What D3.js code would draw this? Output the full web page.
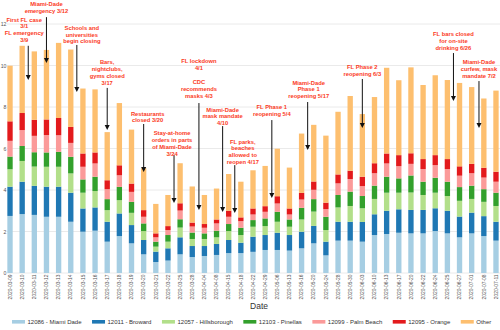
<!DOCTYPE html>
<html lang="en">
<head>
  <meta charset="UTF-8" />
  <title>Florida counties stacked by date</title>
  <style>
    html, body { margin: 0; padding: 0; background: #fff; }
    svg { display: block; font-family: "Liberation Sans", Arial, sans-serif; }
  </style>
</head>
<body>
  <div id="chart"></div>

  <script src="https://d3js.org/d3.v7.min.js"></script>
  <script>
    // Dates on the x axis
    const dates = [
      "2020-03-09", "2020-03-10", "2020-03-11", "2020-03-12", "2020-03-13", "2020-03-14",
      "2020-03-15", "2020-03-16", "2020-03-17", "2020-03-18", "2020-03-19", "2020-03-20",
      "2020-03-21", "2020-03-22", "2020-03-25", "2020-03-28", "2020-04-04", "2020-04-08",
      "2020-04-15", "2020-04-18", "2020-04-22", "2020-04-29", "2020-05-06", "2020-05-13",
      "2020-05-16", "2020-05-20", "2020-05-24", "2020-05-28", "2020-05-30", "2020-06-03",
      "2020-06-10", "2020-06-13", "2020-06-17", "2020-06-20", "2020-06-22", "2020-06-24",
      "2020-06-25", "2020-06-27", "2020-07-01", "2020-07-08", "2020-07-11"
    ];

    // One array per county (stack order, bottom to top)
    const miamiDade = [2.75, 2.84, 2.80, 2.71, 2.71, 2.47, 1.99, 2.04, 1.51, 1.78, 1.43, 0.90, 0.53, 0.60,
      0.90, 0.77, 0.82, 0.87, 0.96, 0.96, 1.02, 1.11, 1.11, 1.08, 1.19, 1.43, 0.85, 1.56, 1.56, 1.51,
      1.83, 1.88, 1.94, 1.91, 1.91, 2.02, 1.91, 1.72, 1.91, 1.78, 1.56];
    const broward = [1.41, 1.56, 1.40, 1.45, 1.45, 1.40, 1.12, 1.12, 0.96, 1.09, 0.88, 0.69, 0.50, 0.59,
      0.82, 0.53, 0.48, 0.53, 0.63, 0.50, 0.73, 0.72, 0.83, 0.75, 0.80, 0.84, 0.66, 0.91, 0.91, 0.95,
      1.00, 1.12, 1.13, 1.13, 1.13, 1.10, 1.09, 1.00, 1.00, 0.96, 0.91];
    const hillsborough = [0.84, 1.00, 0.93, 0.96, 0.96, 0.93, 0.76, 0.79, 0.56, 0.64, 0.59, 0.43, 0.24, 0.32,
      0.47, 0.34, 0.34, 0.32, 0.43, 0.37, 0.48, 0.43, 0.53, 0.40, 0.59, 0.69, 0.56, 0.69, 0.76, 0.66,
      0.74, 0.87, 0.80, 0.84, 0.72, 0.75, 0.71, 0.76, 0.66, 0.69, 0.76];
    const pinellas = [0.61, 0.72, 0.69, 0.69, 0.72, 0.80, 0.64, 0.69, 0.53, 0.64, 0.53, 0.37, 0.24, 0.32,
      0.40, 0.31, 0.27, 0.32, 0.34, 0.35, 0.32, 0.37, 0.48, 0.35, 0.56, 0.60, 0.64, 0.60, 0.69, 0.59,
      0.64, 0.77, 0.69, 0.82, 0.64, 0.72, 0.69, 0.66, 0.64, 0.61, 0.64];
    const palmBeach = [0.76, 0.77, 0.79, 0.84, 0.80, 0.67, 0.61, 0.64, 0.48, 0.56, 0.48, 0.32, 0.21, 0.24,
      0.42, 0.29, 0.27, 0.35, 0.35, 0.32, 0.27, 0.32, 0.40, 0.24, 0.40, 0.45, 0.37, 0.56, 0.61, 0.48,
      0.60, 0.64, 0.59, 0.56, 0.61, 0.61, 0.61, 0.55, 0.60, 0.56, 0.53];
    const orangeCo = [0.94, 0.82, 0.77, 0.75, 0.83, 0.77, 0.64, 0.53, 0.43, 0.48, 0.40, 0.32, 0.19, 0.19,
      0.35, 0.19, 0.18, 0.19, 0.29, 0.18, 0.29, 0.27, 0.35, 0.29, 0.32, 0.40, 0.31, 0.43, 0.40, 0.45,
      0.48, 0.48, 0.53, 0.51, 0.48, 0.48, 0.48, 0.45, 0.45, 0.47, 0.48];
    const other = [2.68, 3.24, 3.30, 3.35, 3.62, 3.73, 3.13, 3.04, 2.32, 3.00, 2.60, 2.02, 1.42, 1.50,
      1.93, 1.74, 1.40, 1.49, 1.77, 1.72, 1.84, 1.94, 2.29, 1.97, 2.86, 2.73, 3.23, 3.02, 3.60, 3.02,
      3.19, 4.13, 3.61, 4.14, 3.57, 3.85, 3.81, 4.02, 3.70, 3.34, 3.91];

    const seriesNames = ["12086 - Miami Dade", "12011 - Broward", "12057 - Hillsborough",
      "12103 - Pinellas", "12099 - Palm Beach", "12095 - Orange", "Other"];
    const seriesValues = [miamiDade, broward, hillsborough, pinellas, palmBeach, orangeCo, other];
    const seriesColors = ["#a6cee3", "#1f78b4", "#b2df8a", "#33a02c", "#fb9a99", "#e31a1c", "#fdbf6f"];

    const yTicks = [0, 2, 4, 6, 8, 10, 12];

    // Event notes: anchored at a date (shift = fraction of a bar step), heights in data units
    const events = [
      { lines: ["First FL case", "3/1", "FL emergency", "3/9"], at: "2020-03-10", shift: 0.5, dx: -4, text: 12.12, from: 10.95, to: 9.30 },
      { lines: ["Miami-Dade", "emergency 3/12"], at: "2020-03-12", shift: 0, dx: 0, text: 12.85, from: 12.33, to: 10.12 },
      { lines: ["Schools and", "universities", "begin closing"], at: "2020-03-14", shift: 0.5, dx: 5, text: 11.73, from: 10.99, to: 8.72 },
      { lines: ["Bars,", "nightclubs,", "gyms closed", "3/17"], at: "2020-03-17", shift: 0, dx: 0, text: 10.05, from: 8.92, to: 6.89 },
      { lines: ["Restaurants", "closed 3/20"], at: "2020-03-20", shift: 0, dx: 4, text: 7.59, from: 7.18, to: 4.87 },
      { lines: ["Stay-at-home", "orders in parts", "of Miami-Dade", "3/24"], at: "2020-03-22", shift: 0.5, dx: -2, text: 6.65, from: 5.69, to: 3.37 },
      { lines: ["FL lockdown", "4/1", "", "CDC", "recommends", "masks 4/3"], at: "2020-03-28", shift: 0.55, dx: 0, text: 10.10, from: 8.19, to: 3.04 },
      { lines: ["Miami-Dade", "mask mandate", "4/10"], at: "2020-04-08", shift: 0.5, dx: 0, text: 7.78, from: 7.08, to: 2.94 },
      { lines: ["FL parks,", "beaches", "allowed to", "reopen 4/17"], at: "2020-04-15", shift: 0.5, dx: 8, text: 6.24, from: 5.20, to: 2.89 },
      { lines: ["FL Phase 1", "reopening 5/4"], at: "2020-04-29", shift: 0.55, dx: 0, text: 7.88, from: 7.37, to: 3.61 },
      { lines: ["Miami-Dade", "Phase 1", "reopening 5/17"], at: "2020-05-16", shift: 0.5, dx: 1, text: 9.08, from: 8.24, to: 5.93 },
      { lines: ["FL Phase 2", "reopening 6/3"], at: "2020-06-03", shift: 0, dx: 0, text: 9.81, from: 9.35, to: 6.99 },
      { lines: ["FL bars closed", "for on-site", "drinking 6/26"], at: "2020-06-25", shift: 0.5, dx: 0, text: 11.40, from: 10.60, to: 8.29 },
      { lines: ["Miami-Dade", "curfew, mask", "mandate 7/2"], at: "2020-07-01", shift: 0.6, dx: 0, text: 10.05, from: 9.25, to: 6.99 }
    ];

    const width = 500, height = 330;

    // Table for d3.stack
    const rows = dates.map((d, i) => {
      const row = { date: d };
      seriesNames.forEach((name, k) => { row[name] = seriesValues[k][i]; });
      return row;
    });

    const svg = d3.select("#chart").append("svg")
      .attr("width", width)
      .attr("height", height);

    const x = d3.scaleBand()
      .domain(dates)
      .range([3.7, 502.3])
      .paddingInner(0.56)
      .paddingOuter(0.3);

    const y = d3.scaleLinear()
      .domain([0, 12])
      .range([273, 24]);

    // Horizontal grid
    svg.append("g")
      .selectAll("line")
      .data(yTicks)
      .join("line")
      .attr("x1", 7)
      .attr("x2", width)
      .attr("y1", d => y(d))
      .attr("y2", d => y(d))
      .attr("stroke", "#e5e5e5")
      .attr("stroke-width", 0.8);

    // Y axis labels
    const yAxis = svg.append("g")
      .attr("transform", "translate(6.8,0)")
      .call(d3.axisLeft(y).tickValues(yTicks).tickSize(0).tickPadding(0.4));
    yAxis.select(".domain").remove();
    yAxis.selectAll("text")
      .attr("font-size", 5.2)
      .attr("font-family", "Liberation Sans, Arial, sans-serif")
      .attr("fill", "#555");

    // Stacked bars
    const stack = d3.stack().keys(seriesNames);
    const layers = stack(rows);

    svg.append("g")
      .selectAll("g")
      .data(layers)
      .join("g")
      .attr("fill", (d, i) => seriesColors[i])
      .selectAll("rect")
      .data(d => d)
      .join("rect")
      .attr("x", d => x(d.data.date))
      .attr("width", x.bandwidth())
      .attr("y", d => y(d[1]))
      .attr("height", d => y(d[0]) - y(d[1]));

    // X axis labels, rotated
    const xAxis = svg.append("g")
      .attr("transform", `translate(0,${y(0)})`)
      .call(d3.axisBottom(x).tickSize(0).tickPadding(0));
    xAxis.select(".domain").remove();
    xAxis.selectAll("text")
      .attr("font-size", 4.9)
      .attr("font-family", "Liberation Sans, Arial, sans-serif")
      .attr("fill", "#555")
      .attr("text-anchor", "end")
      .attr("transform", "rotate(-90)")
      .attr("x", -1.5)
      .attr("y", 0)
      .attr("dy", "0.35em");

    svg.append("text")
      .attr("x", 259)
      .attr("y", 309)
      .attr("text-anchor", "middle")
      .attr("font-size", 8.5)
      .attr("fill", "#333")
      .text("Date");

    // Event annotations
    const step = x.step();
    const arrowX = e => x(e.at) + x.bandwidth() / 2 + e.shift * step;
    const noteGroup = svg.append("g");

    events.forEach(e => {
      const ax = arrowX(e);
      const yFrom = y(e.from), yTo = y(e.to);
      noteGroup.append("line")
        .attr("x1", ax).attr("x2", ax)
        .attr("y1", yFrom).attr("y2", yTo - 4)
        .attr("stroke", "#111")
        .attr("stroke-width", 1);
      noteGroup.append("path")
        .attr("d", `M${ax - 2.5},${yTo - 5} L${ax + 2.5},${yTo - 5} L${ax},${yTo} Z`)
        .attr("fill", "#111");

      const t = noteGroup.append("text")
        .attr("x", ax + e.dx)
        .attr("y", y(e.text))
        .attr("text-anchor", "middle")
        .attr("font-size", 5.8)
        .attr("font-weight", "bold")
        .attr("fill", "#fb3a24");
      e.lines.forEach((line, i) => {
        t.append("tspan")
          .attr("x", ax + e.dx)
          .attr("dy", i === 0 ? 0 : 6.9)
          .text(line === "" ? "\u00a0" : line);
      });
    });

    // Legend along the bottom
    const legend = svg.append("g").attr("transform", "translate(0,322)");
    let lx = 12;
    seriesNames.forEach((name, i) => {
      legend.append("rect")
        .attr("x", lx)
        .attr("y", -2)
        .attr("width", 13)
        .attr("height", 3.6)
        .attr("fill", seriesColors[i]);
      const label = legend.append("text")
        .attr("x", lx + 15.5)
        .attr("y", 2.1)
        .attr("font-size", 6.0)
        .attr("fill", "#333")
        .text(name);
      lx += 15.5 + label.node().getComputedTextLength() + 10.5;
    });
  </script>
</body>
</html>
